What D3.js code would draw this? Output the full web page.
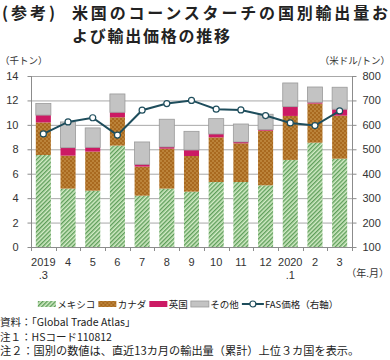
<!DOCTYPE html>
<html><head><meta charset="utf-8">
<script src="https://cdn.jsdelivr.net/npm/d3@7"></script>
<style>
body{margin:0;background:#fff;}
svg{display:block;font-family:"Noto Sans CJK JP","Noto Sans",sans-serif;}
</style></head>
<body><svg id="c" width="390" height="360"></svg>
<script>
const months = ["2019\n.3","4","5","6","7","8","9","10","11","12","2020\n.1","2","3"];
const mexico = [7.53,4.78,4.61,8.30,4.20,4.78,4.53,5.32,5.32,5.05,7.13,8.54,7.23];
const canada = [2.67,2.70,3.20,2.32,2.38,3.27,2.92,3.66,3.17,4.47,3.60,3.20,3.52];
const uk     = [0.60,0.65,0.35,0.41,0.19,0.14,0.49,0.27,0.11,0.09,0.76,0.11,0.53];
const other  = [0.95,2.11,1.59,1.50,1.83,2.27,1.53,1.26,1.47,1.26,1.94,1.25,1.80];
const price  = [563,612,629,558,660,687,700,664,661,638,608,597,657];
const leftTicks = [0,2,4,6,8,10,12,14];
const rightTicks = [100,200,300,400,500,600,700,800];
const seriesNames = ["メキシコ","カナダ","英国","その他"];
const lineName = "FAS価格（右軸）";

const svg = d3.select("#c");
const defs = svg.append("defs");
const pm = defs.append("pattern").attr("id","pMex").attr("patternUnits","userSpaceOnUse")
  .attr("width",3).attr("height",3).attr("patternTransform","rotate(45)");
pm.append("rect").attr("width",3).attr("height",3).attr("fill","#d3ecc6");
pm.append("rect").attr("x",0).attr("width",1.4).attr("height",3).attr("fill","#5e9e5a");
const pc = defs.append("pattern").attr("id","pCan").attr("patternUnits","userSpaceOnUse")
  .attr("width",4).attr("height",4);
pc.append("rect").attr("width",4).attr("height",4).attr("fill","#a9691f");
pc.append("rect").attr("x",0.5).attr("y",0.5).attr("width",1).attr("height",1).attr("fill","#f2d08a");
pc.append("rect").attr("x",2.5).attr("y",2.5).attr("width",1).attr("height",1).attr("fill","#f2d08a");

const fills = ["url(#pMex)","url(#pCan)","#cc1a64","#c3c3c3"];
const strokes = ["none","none","none","#9a9a9a"];

const L = 31, R = 352, T = 76, B = 247;
const x = d3.scaleBand().domain(months).range([L,R]).paddingInner(0.39).paddingOuter(0.195);
const y = d3.scaleLinear().domain([0,14]).range([B,T]);
const y2 = d3.scaleLinear().domain([100,800]).range([B,T]);

// Title
svg.append("text").attr("x",2).attr("y",19).attr("font-size",16).attr("font-weight","bold")
  .attr("fill","#222").attr("textLength",53).attr("lengthAdjust","spacing").text("(参考)");
svg.append("text").attr("x",72).attr("y",19).attr("font-size",16).attr("font-weight","bold")
  .attr("fill","#222").attr("textLength",316).attr("lengthAdjust","spacing").text("米国のコーンスターチの国別輸出量お");
svg.append("text").attr("x",72).attr("y",42).attr("font-size",16).attr("font-weight","bold")
  .attr("fill","#222").attr("textLength",158).attr("lengthAdjust","spacing").text("よび輸出価格の推移");

// Units
svg.append("text").attr("x",0).attr("y",64).attr("font-size",9.5).attr("fill","#333").text("（千トン）");
svg.append("text").attr("x",390).attr("y",64).attr("font-size",9.5).attr("fill","#333")
  .attr("text-anchor","end").text("（米ドル/トン）");

// gridlines
svg.append("g").selectAll("line").data(leftTicks).join("line")
  .attr("x1",L).attr("x2",R).attr("y1",d=>y(d)+0.5).attr("y2",d=>y(d)+0.5)
  .attr("stroke","#a8a8a8").attr("stroke-width",1);

// bars
const stackData = months.map((m,i)=>({m, v:[mexico[i],canada[i],uk[i],other[i]]}));
const stack = d3.stack().keys([0,1,2,3]).value((d,k)=>d.v[k]);
const layers = stack(stackData);
svg.append("g").selectAll("g").data(layers).join("g")
  .attr("fill",(d,i)=>fills[i]).attr("stroke",(d,i)=>strokes[i]).attr("stroke-width",0.8)
  .selectAll("rect").data(d=>d).join("rect")
  .attr("x",d=>x(d.data.m)).attr("width",x.bandwidth())
  .attr("y",d=>y(d[1])).attr("height",d=>y(d[0])-y(d[1]));

// axes lines
const axisCol = "#8c8c8c";
svg.append("line").attr("x1",L+0.5).attr("x2",L+0.5).attr("y1",T).attr("y2",B).attr("stroke",axisCol);
svg.append("line").attr("x1",R+0.5).attr("x2",R+0.5).attr("y1",T).attr("y2",B).attr("stroke",axisCol);
svg.append("line").attr("x1",L).attr("x2",R+1).attr("y1",B+0.5).attr("y2",B+0.5).attr("stroke",axisCol);

const ga = svg.append("g").attr("transform",`translate(${L+0.5},0)`)
  .call(d3.axisLeft(y).tickValues(leftTicks).tickSize(4).tickPadding(9));
ga.select(".domain").remove();
ga.selectAll("line").attr("stroke",axisCol);
ga.selectAll("text").attr("font-size",11).attr("fill","#333").attr("font-family","'Liberation Sans',Arial,sans-serif");
const gr = svg.append("g").attr("transform",`translate(${R+0.5},0)`)
  .call(d3.axisRight(y2).tickValues(rightTicks).tickSize(4).tickPadding(6));
gr.select(".domain").remove();
gr.selectAll("line").attr("stroke",axisCol);
gr.selectAll("text").attr("font-size",11).attr("fill","#333").attr("font-family","'Liberation Sans',Arial,sans-serif");

const bounds = months.map(m=>x(m)-(x.step()-x.bandwidth())/2).concat([R]);
svg.append("g").selectAll("line").data(bounds).join("line")
  .attr("x1",d=>Math.round(d)+0.5).attr("x2",d=>Math.round(d)+0.5).attr("y1",B).attr("y2",B+4)
  .attr("stroke",axisCol);
const xl = svg.append("g").selectAll("text").data(months).join("text")
  .attr("x",d=>x(d)+x.bandwidth()/2).attr("y",266).attr("text-anchor","middle")
  .attr("font-size",11).attr("fill","#333").attr("font-family","'Liberation Sans',Arial,sans-serif");
xl.each(function(d){
  const parts = d.split("\n");
  const t = d3.select(this);
  parts.forEach((p,i)=>t.append("tspan").attr("x",x(d)+x.bandwidth()/2).attr("dy",i===0?0:13).text(p));
});
svg.append("text").attr("x",389).attr("y",277).attr("text-anchor","end").attr("font-size",10)
  .attr("fill","#333").text("（年.月）");

// price line
const lineCol = "#1e4d5c";
const line = d3.line().x((d,i)=>x(months[i])+x.bandwidth()/2).y(d=>y2(d));
svg.append("path").datum(price).attr("d",line).attr("fill","none").attr("stroke",lineCol).attr("stroke-width",2);
svg.append("g").selectAll("circle").data(price).join("circle")
  .attr("cx",(d,i)=>x(months[i])+x.bandwidth()/2).attr("cy",d=>y2(d)).attr("r",3)
  .attr("fill","#fff").attr("stroke",lineCol).attr("stroke-width",1.2);

// legend (laid out from measured text widths)
const lg = svg.append("g").attr("font-size",9.5).attr("fill","#222");
let cx = 0;
const items = [];
seriesNames.forEach((n,i)=>{
  const g = lg.append("g").attr("transform",`translate(${cx},0)`);
  g.append("rect").attr("x",0).attr("y",301).attr("width",18).attr("height",6)
    .attr("fill",fills[i]).attr("stroke",strokes[i]).attr("stroke-width",0.8);
  const t = g.append("text").attr("x",19.5).attr("y",307.5).text(n);
  cx += 19.5 + t.node().getComputedTextLength() + 3;
});
{
  const g = lg.append("g").attr("transform",`translate(${cx},0)`);
  g.append("line").attr("x1",0).attr("x2",22).attr("y1",304).attr("y2",304).attr("stroke",lineCol).attr("stroke-width",2);
  g.append("circle").attr("cx",11).attr("cy",304).attr("r",3).attr("fill","#fff").attr("stroke",lineCol).attr("stroke-width",1.2);
  const t = g.append("text").attr("x",23).attr("y",307.5).text(lineName);
  cx += 23 + t.node().getComputedTextLength();
}
lg.attr("transform",`translate(${188 - cx/2},0)`);

// notes
const notes = ["資料：「Global Trade Atlas」","注１：HSコード110812","注２：国別の数値は、直近13カ月の輸出量（累計）上位３カ国を表示。"];
const noteFs = [10.5,10.5,11.2];
svg.append("g").selectAll("text").data(notes).join("text")
  .attr("x",0).attr("y",(d,i)=>326+i*14.5).attr("font-size",(d,i)=>noteFs[i]).attr("fill","#222").text(d=>d);
</script></body></html>
